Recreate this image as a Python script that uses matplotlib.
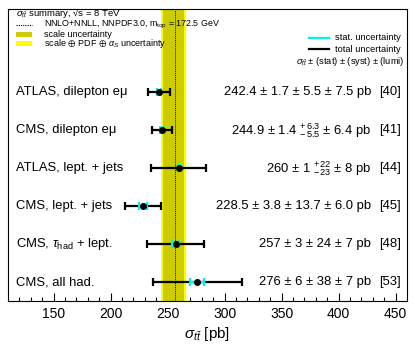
import matplotlib
matplotlib.use("Agg")
import matplotlib.pyplot as plt
import numpy as np

plt.rcParams['font.family'] = ['Liberation Sans', 'DejaVu Sans']
plt.rcParams['mathtext.fontset'] = 'custom'
plt.rcParams['mathtext.rm'] = 'Liberation Sans'
plt.rcParams['mathtext.it'] = 'Liberation Sans:italic'
plt.rcParams['mathtext.bf'] = 'Liberation Sans:bold'
plt.rcParams['mathtext.fallback'] = 'stixsans'

# measurements (top to bottom)
labels = ['ATLAS, dilepton e\u03bc', 'CMS, dilepton e\u03bc', 'ATLAS, lept. + jets',
          'CMS, lept. + jets', r'CMS, $\tau_{\rm had}$ + lept.', 'CMS, all had.']
values = [242.4, 244.9, 260.0, 228.5, 257.0, 276.0]
stat = [1.7, 1.4, 1.0, 3.8, 3.0, 6.0]
syst_up = [5.5, 6.3, 22.0, 13.7, 24.0, 38.0]
syst_dn = [5.5, 5.5, 23.0, 13.7, 24.0, 38.0]
lumi = [7.5, 6.4, 8.0, 6.0, 7.0, 7.0]
texts = ['242.4 \u00b1 1.7 \u00b1 5.5 \u00b1 7.5 pb',
         '244.9 \u00b1 1.4 $^{+\\,6.3}_{-\\,5.5}$ \u00b1 6.4 pb',
         '260 \u00b1 1 $^{+\\,22}_{-\\,23}$ \u00b1 8 pb',
         '228.5 \u00b1 3.8 \u00b1 13.7 \u00b1 6.0 pb',
         '257 \u00b1 3 \u00b1 24 \u00b1 7 pb',
         '276 \u00b1 6 \u00b1 38 \u00b1 7 pb']
refs = ['[40]', '[41]', '[44]', '[45]', '[48]', '[53]']

# theory prediction band
theory = 256.4
scale_band = [246.2, 264.1]
total_band = [244.1, 266.0]

vals = np.array(values)
tot_up = np.sqrt(np.array(stat)**2 + np.array(syst_up)**2 + np.array(lumi)**2)
tot_dn = np.sqrt(np.array(stat)**2 + np.array(syst_dn)**2 + np.array(lumi)**2)
ypos = np.arange(len(values), 0, -1)

fig = plt.figure(figsize=(4.15, 3.55), dpi=100)
ax = fig.add_axes([8/415, 54/355, 399/415, 292/355])

ax.axvspan(total_band[0], total_band[1], color='#ffff00', lw=0, zorder=1)
ax.axvspan(scale_band[0], scale_band[1], color='#cccc00', lw=0, zorder=2)
ax.axvline(theory, color='black', ls=(0, (1, 1)), lw=0.7, zorder=3)

ax.errorbar(vals, ypos, xerr=[tot_dn, tot_up], fmt='none', ecolor='black',
            elinewidth=1.6, capsize=3, capthick=1.6, zorder=4)
ax.errorbar(vals, ypos, xerr=stat, fmt='none', ecolor='#00f0f0',
            elinewidth=1.6, capsize=3, capthick=1.6, zorder=5)
ax.plot(vals, ypos, 'o', color='black', ms=4, zorder=6)

ytf = ax.get_yaxis_transform()
for y, lab, txt, ref in zip(ypos, labels, texts, refs):
    ax.text(0.02, y, lab, transform=ytf, ha='left', va='center', fontsize=9.4)
    ax.text(0.910, y, txt, transform=ytf, ha='right', va='center', fontsize=9.4)
    ax.text(0.984, y, ref, transform=ytf, ha='right', va='center', fontsize=9.4)

ax.set_xlim(110, 460)
ax.set_ylim(0.5, 8.2)
ax.set_yticks([])
ax.set_xticks(np.arange(150, 451, 50))
ax.set_xticks(np.arange(120, 460, 10), minor=True)
ax.tick_params(axis='x', which='major', direction='in', length=6, width=0.8, labelsize=10, pad=4)
ax.tick_params(axis='x', which='minor', direction='in', length=3, width=0.8)
for s in ax.spines.values():
    s.set_linewidth(0.8)
ax.set_xlabel(r'$\sigma_{t\bar{t}}$ [pb]', fontsize=11, labelpad=3)

# legend, top left
tf = ax.transAxes
def fx(px):
    return (px - 8) / 399
def fy(py):
    return 1 - (py - 9) / 292
ax.text(fx(16), fy(12.5), '$\\sigma_{t\\bar{t}}$ summary, \u221as = 8 TeV', transform=tf,
        ha='left', va='center', fontsize=6.8)
ax.plot([fx(16), fx(32)], [fy(24.5), fy(24.5)], transform=tf, color='black', ls=(0, (1, 1)), lw=0.8)
ax.text(fx(44), fy(24.8), r'NNLO+NNLL, NNPDF3.0, m$_{\rm top}$ = 172.5 GeV', transform=tf,
        ha='left', va='center', fontsize=6.4)
ax.add_patch(plt.Rectangle((fx(16), fy(36.7)), fx(32) - fx(16), fy(32) - fy(36.7),
                           transform=tf, color='#cccc00', lw=0))
ax.text(fx(44), fy(34.2), 'scale uncertainty', transform=tf, ha='left', va='center', fontsize=6.5)
ax.add_patch(plt.Rectangle((fx(16), fy(45.7)), fx(32) - fx(16), fy(41) - fy(45.7),
                           transform=tf, color='#ffff00', lw=0))
ax.text(fx(44), fy(43.8), 'scale $\\oplus$ PDF $\\oplus$ $\\alpha_{S}$ uncertainty', transform=tf,
        ha='left', va='center', fontsize=6.5)

# legend, top right
ax.plot([fx(309), fx(329)], [fy(37.7), fy(37.7)], transform=tf, color='#00f0f0', lw=1.6)
ax.text(fx(335), fy(37.7), 'stat. uncertainty', transform=tf, ha='left', va='center', fontsize=6.7)
ax.plot([fx(309), fx(329)], [fy(49.3), fy(49.3)], transform=tf, color='black', lw=1.6)
ax.text(fx(335), fy(49.3), 'total uncertainty', transform=tf, ha='left', va='center', fontsize=6.7)
ax.text(fx(404), fy(61), '$\\sigma_{t\\bar{t}}$ \u00b1 (stat) \u00b1 (syst) \u00b1 (lumi)', transform=tf,
        ha='right', va='center', fontsize=6.7)

fig.savefig('out.png', dpi=100)
